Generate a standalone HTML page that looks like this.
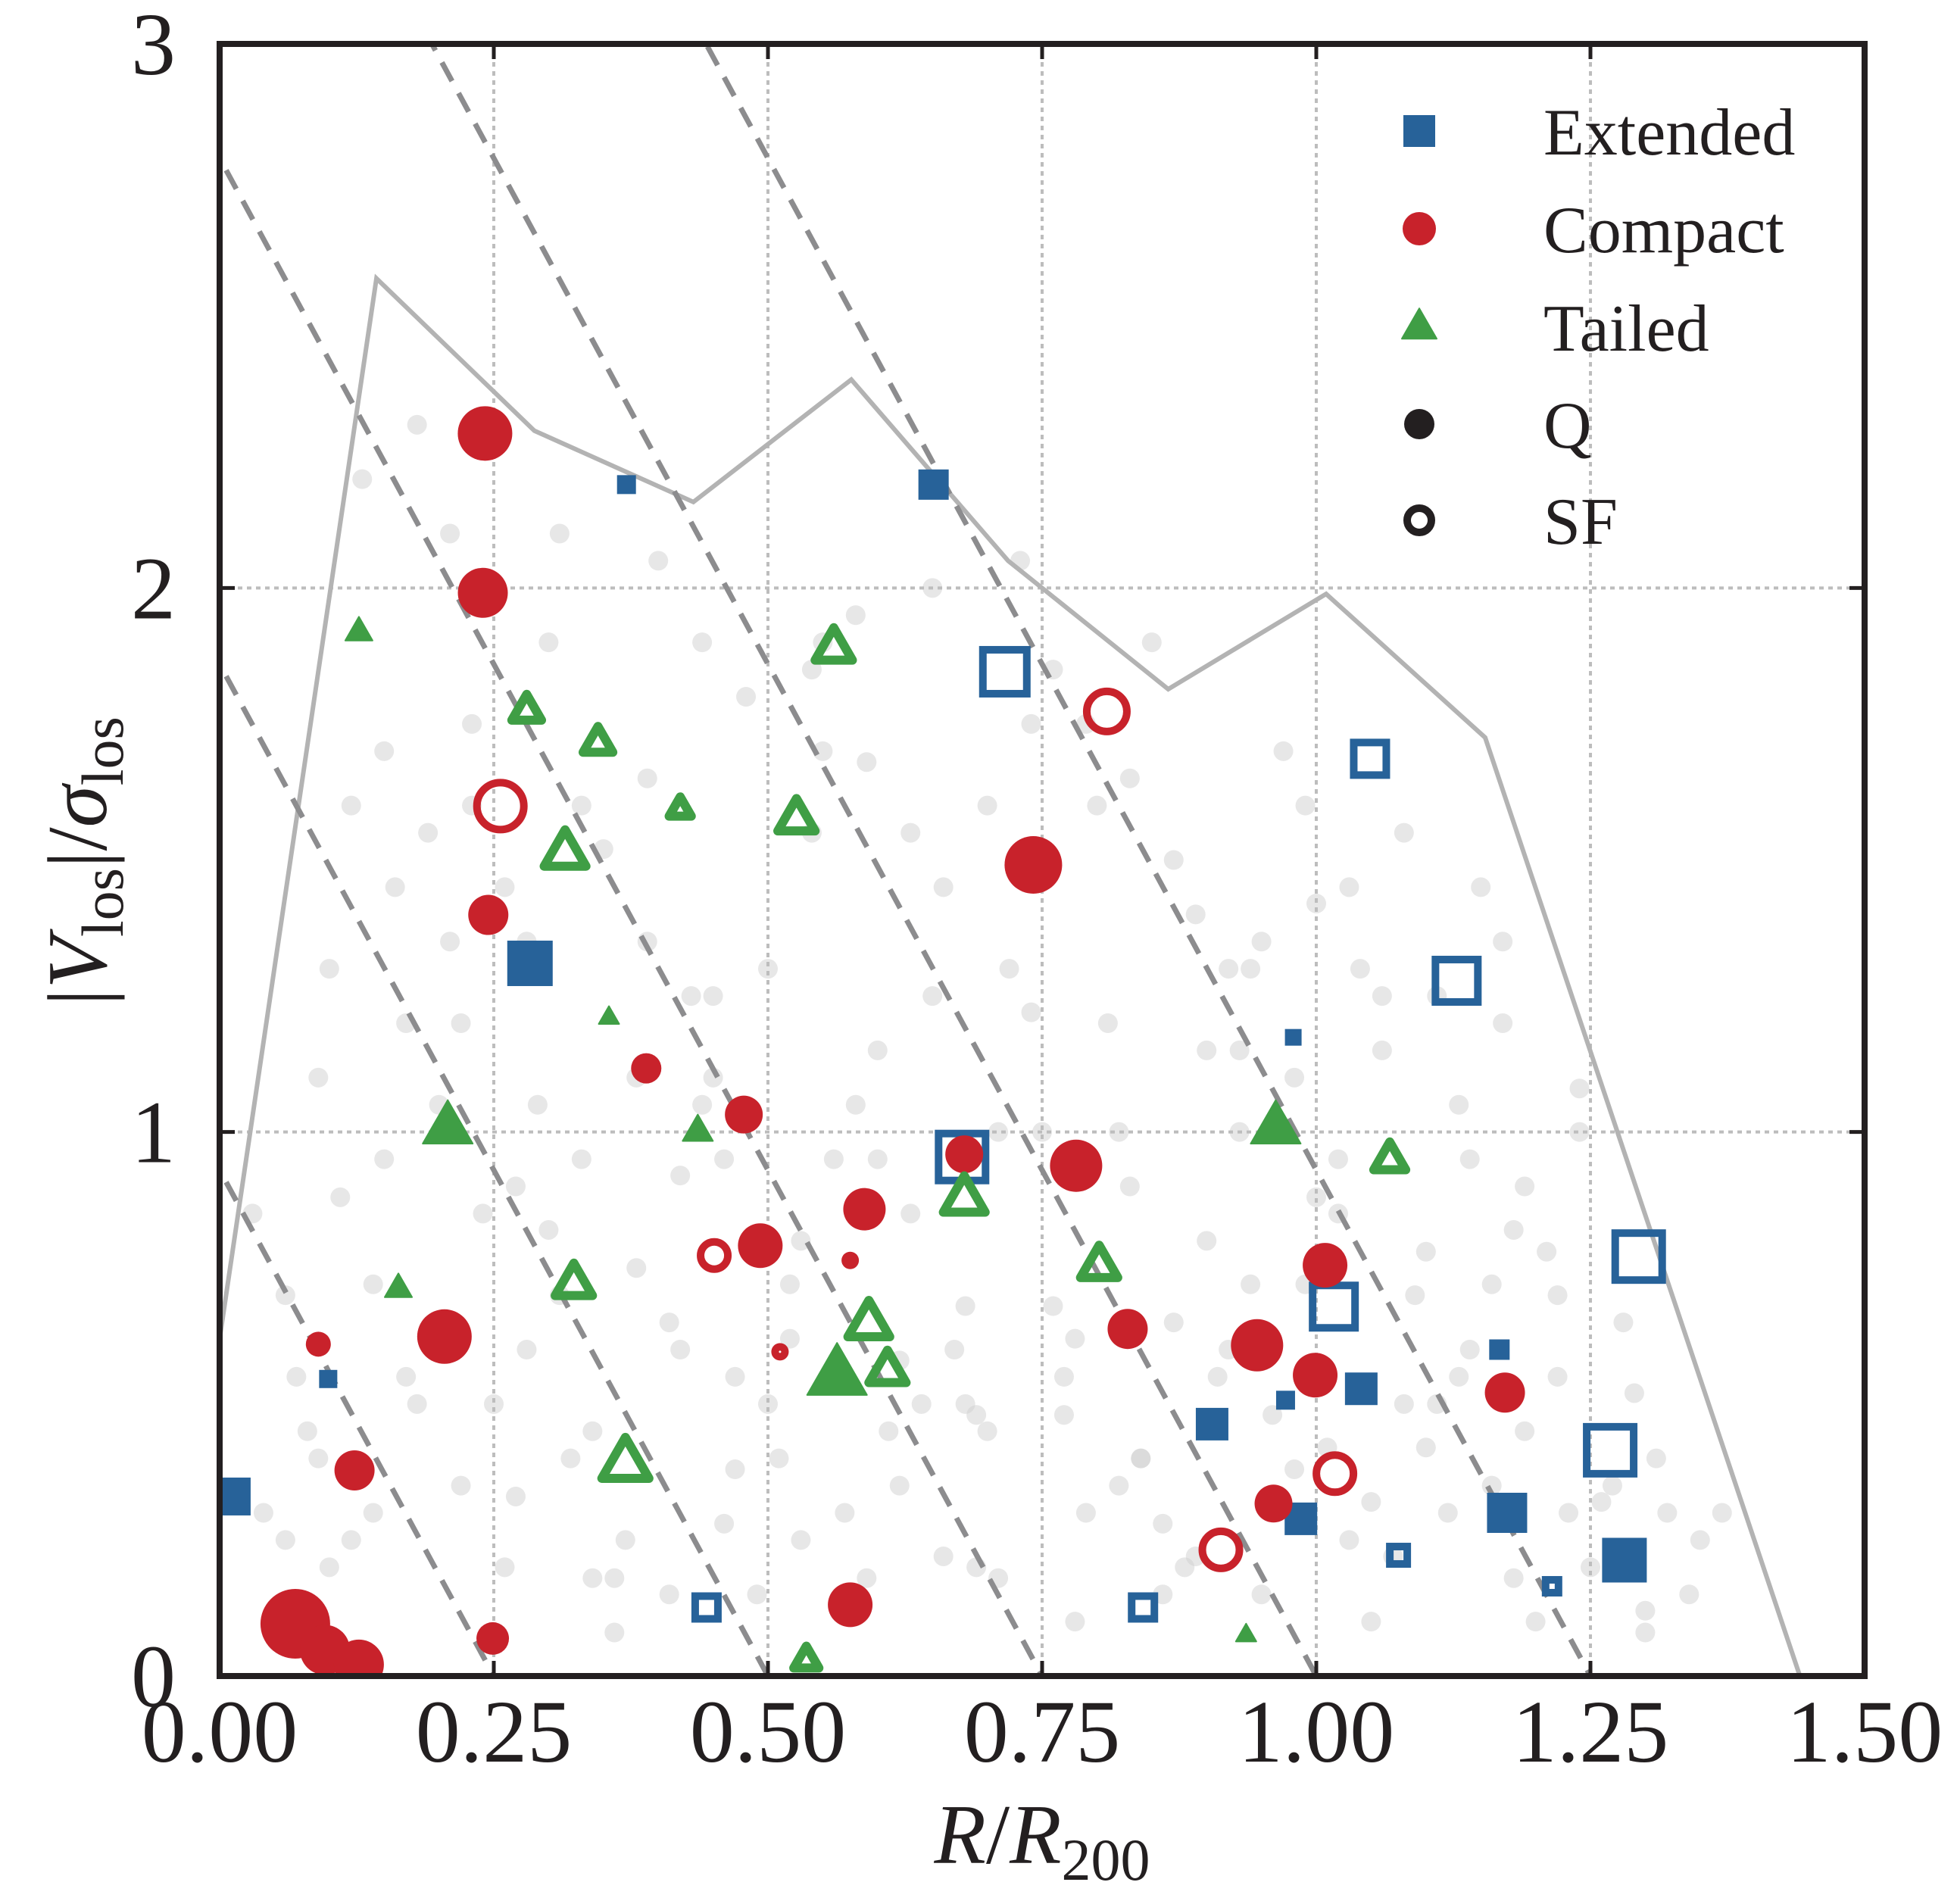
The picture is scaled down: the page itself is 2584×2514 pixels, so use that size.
<!DOCTYPE html>
<html><head><meta charset="utf-8"><style>
html,body{margin:0;padding:0;background:#fff;}
svg{display:block;}
text{font-family:"Liberation Serif",serif;fill:#231f20;}
</style></head><body>
<svg id="chart" width="2584" height="2514" viewBox="0 0 2584 2514" xmlns="http://www.w3.org/2000/svg">
<rect x="0" y="0" width="2584" height="2514" fill="#fff"/>
<g id="bg"></g><g id="grid"></g><g id="lines"></g><g id="marks"></g><g id="axes"></g><g id="legend"></g>
</svg>
<script>
const xTicks=[0,0.25,0.5,0.75,1.0,1.25,1.5];
const xTickLabels=["0.00","0.25","0.50","0.75","1.00","1.25","1.50"];
const yTicks=[0,1,2,3];
const yTickLabels=["0","1","2","3"];
// [x, y, size]
const extQ=[[0.011,0.33,50],[0.371,2.19,25],[0.651,2.19,40],[0.283,1.31,60],[0.099,0.546,24],[0.979,1.174,22],[1.167,0.60,27],[0.972,0.507,25],[1.041,0.528,43],[0.905,0.463,43],[0.986,0.289,43],[1.174,0.30,53],[1.281,0.213,59]];
const extSF=[[0.716,1.846,68],[1.049,1.686,53],[1.128,1.278,66],[0.677,0.954,72],[1.294,0.771,72],[1.016,0.679,66],[1.268,0.415,72],[0.444,0.126,40],[0.842,0.126,40],[1.075,0.222,33],[1.215,0.165,27]];
const cmpQ=[[0.242,2.284,72],[0.240,1.991,66],[0.245,1.399,53],[0.389,1.117,40],[0.478,1.032,50],[0.742,1.491,76],[0.679,0.959,50],[0.781,0.938,69],[0.588,0.858,56],[0.493,0.791,59],[0.575,0.764,23],[0.205,0.624,72],[0.090,0.610,33],[0.123,0.378,53],[0.828,0.638,53],[0.946,0.608,69],[1.008,0.755,59],[0.999,0.553,59],[1.172,0.521,53],[0.961,0.317,50],[0.575,0.131,59],[0.249,0.069,43],[0.069,0.096,92],[0.096,0.048,66],[0.127,0.021,66]];
const cmpSF=[[0.256,1.599,72],[0.809,1.773,63],[0.451,0.773,46],[1.017,0.372,59],[0.913,0.232,59],[0.511,0.596,23]];
const tailQ=[[0.127,1.92,36],[0.355,1.211,27],[0.208,1.009,66],[0.436,1.002,40],[0.163,0.713,36],[0.563,0.553,79],[0.963,1.009,66],[0.936,0.076,27]];
const tailSF=[[0.280,1.775,56],[0.345,1.716,56],[0.560,1.89,66],[0.420,1.594,46],[0.526,1.576,66],[0.315,1.514,72],[0.323,0.722,66],[0.370,0.392,79],[0.535,0.030,50],[0.592,0.649,72],[0.609,0.562,66],[0.679,0.878,72],[0.802,0.755,66],[1.067,0.95,59]];
const envX=[0,0.143,0.287,0.432,0.576,0.719,0.865,1.009,1.154,1.441];
const envY=[0.62,2.569,2.289,2.158,2.383,2.05,1.814,1.989,1.725,0];
const causticX0=[0.25,0.5,0.75,1.0,1.25];
const causticSlope=3.72;
const bgX=[0.05,0.08,0.11,0.14,0.17,0.2,0.23,0.26,0.29,0.32,0.35,0.38,0.41,0.44,0.47,0.5,0.53,0.56,0.59,0.62,0.65,0.68,0.71,0.74,0.77,0.8,0.83,0.86,0.89,0.92,0.95,0.98,1.01,1.04,1.07,1.1,1.13,1.16,1.19,1.22,1.25,1.28,1.31,1.34,
0.06,0.09,0.12,0.15,0.18,0.21,0.24,0.27,0.3,0.33,0.36,0.39,0.42,0.45,0.48,0.51,0.54,0.57,0.6,0.63,0.66,0.69,0.72,0.75,0.78,0.81,0.84,0.87,0.9,0.93,0.96,0.99,1.02,1.05,1.08,1.11,1.14,1.17,1.2,1.23,
0.04,0.1,0.16,0.22,0.28,0.34,0.4,0.46,0.52,0.58,0.64,0.7,0.76,0.82,0.88,0.94,1.0,1.06,1.12,1.18,1.24,1.3,
0.13,0.19,0.25,0.31,0.37,0.43,0.49,0.55,0.61,0.67,0.73,0.79,0.85,0.91,0.97,1.03,1.09,1.15,
0.07,0.15,0.23,0.31,0.39,0.47,0.55,0.63,0.71,0.79,0.87,0.95,1.03,1.11,1.19,1.27,1.35,
0.03,0.06,0.1,0.14,0.18,0.22,0.26,0.3,0.34,0.38,0.42,0.46,0.5,0.54,0.58,0.62,0.66,0.7,0.74,0.78,0.82,0.86,0.9,0.94,0.98,1.02,1.06,1.1,1.14,1.18,1.22,1.26,1.3,
0.09,0.17,0.21,0.27,0.33,0.41,0.45,0.53,0.59,0.65,0.69,0.77,0.83,0.89,0.93,0.99,1.05,1.13,1.17,1.21,1.29,1.37,
0.12,0.2,0.28,0.36,0.44,0.52,0.6,0.68,0.76,0.84,0.92,1.0,1.08,1.16,1.24,1.32];
const bgY=[0.12,0.45,0.88,0.3,1.2,0.62,1.75,0.2,1.05,0.4,1.52,0.75,0.15,1.9,0.55,1.3,0.25,0.95,1.68,0.35,2.0,0.68,0.18,1.22,0.48,1.6,0.9,0.28,1.4,0.6,0.15,1.1,0.42,1.3,0.22,0.78,1.05,0.35,0.9,0.55,0.2,0.65,0.4,0.15,
0.7,1.1,0.25,1.7,0.5,2.1,0.85,0.33,1.9,0.95,0.08,1.35,0.6,1.1,1.8,0.4,1.55,0.3,1.15,0.85,1.45,0.2,1.3,1.0,0.1,1.2,0.4,1.5,0.8,1.0,0.48,1.6,0.95,0.1,1.55,0.5,0.6,1.2,0.1,0.3,
0.3,0.2,1.45,1.2,0.6,0.45,2.05,0.95,0.72,1.95,0.5,1.6,0.68,0.35,0.2,1.3,1.42,1.15,0.3,0.82,1.0,0.12,
2.2,1.55,0.5,2.1,0.25,1.25,0.15,1.7,0.45,0.6,2.05,0.3,1.9,0.55,1.7,0.25,0.7,1.45,
0.55,0.95,1.6,0.7,1.65,0.38,1.9,1.55,1.0,1.75,0.65,1.35,1.45,1.25,0.45,0.35,0.25,
0.85,0.25,1.3,0.72,2.3,0.35,1.45,0.82,0.18,1.1,0.92,0.28,0.5,1.85,1.05,0.58,0.22,0.45,1.75,0.62,1.0,0.15,1.15,0.72,0.38,0.85,1.25,0.42,0.95,0.18,0.7,0.32,0.08,
0.4,0.55,1.35,0.9,1.6,0.65,1.25,0.8,0.18,1.25,0.48,0.55,1.65,0.22,1.15,0.72,0.32,0.55,1.35,0.78,0.52,0.3,
1.6,1.05,1.35,0.18,1.05,0.62,0.95,0.5,1.85,0.4,1.3,0.88,0.5,0.72,1.08,0.3];

const L=290,R=2462,T=58,B=2213;
const X0=0,X1=1.5,Y0=0,Y1=3;
const sx=v=>L+(v-X0)/(X1-X0)*(R-L);
const sy=v=>B-(v-Y0)/(Y1-Y0)*(B-T);
const NS="http://www.w3.org/2000/svg";
function mk(tag,attrs,parent){const e=document.createElementNS(NS,tag);for(const k in attrs)e.setAttribute(k,attrs[k]);parent.appendChild(e);return e;}
const BLUE="#276299",RED="#c8222b",GREEN="#3f9e45";

const defs=mk('defs',{},document.getElementById('chart'));
const cp=mk('clipPath',{id:'plotclip'},defs);
mk('rect',{x:L,y:T,width:R-L,height:B-T},cp);
['bg','grid','lines','marks'].forEach(id=>document.getElementById(id).setAttribute('clip-path','url(#plotclip)'));

const bg=document.getElementById('bg');
for(let i=0;i<bgX.length;i++){
  const c=mk('circle',{cx:sx(bgX[i]),cy:sy(bgY[i]),r:13,fill:'#d0d0d0','fill-opacity':0.5},bg);
  
  
}
const grid=document.getElementById('grid');
xTicks.slice(1,-1).forEach(v=>{const l=mk('line',{x1:sx(v),x2:sx(v),y1:T,y2:B,stroke:'#bdbdbd','stroke-width':4,'stroke-dasharray':'6 6'},grid);
  });
yTicks.slice(1,-1).forEach(v=>{const l=mk('line',{x1:L,x2:R,y1:sy(v),y2:sy(v),stroke:'#bdbdbd','stroke-width':4,'stroke-dasharray':'6 6'},grid);
  });

const lines=document.getElementById('lines');
const env=mk('polyline',{points:envX.map((x,i)=>sx(x)+','+sy(envY[i])).join(' '),fill:'none',stroke:'#b3b3b3','stroke-width':6},lines);

causticX0.forEach(x0=>{
  const xa=-0.1,xb=x0+0.05;
  const l=mk('line',{x1:sx(xa),y1:sy(causticSlope*(x0-xa)),x2:sx(xb),y2:sy(causticSlope*(x0-xb)),stroke:'#8c8c8e','stroke-width':7,'stroke-dasharray':'28 18'},lines);
  
});

const marks=document.getElementById('marks');
function square(x,y,s,col,open,parent){const sw=10;
  const a=open?{x:x-s/2+sw/2,y:y-s/2+sw/2,width:s-sw,height:s-sw,fill:'none',stroke:col,'stroke-width':sw}:{x:x-s/2,y:y-s/2,width:s,height:s,fill:col};
  return mk('rect',a,parent);}
function circle(x,y,s,col,open,parent){const sw=10;
  const a=open?{cx:x,cy:y,r:s/2-sw/2,fill:'none',stroke:col,'stroke-width':sw}:{cx:x,cy:y,r:s/2,fill:col};
  return mk('circle',a,parent);}
function tri(x,y,s,col,open,parent){const sw=12;const h=s*0.87;
  const k=open?1-sw*1.4/s:1;const hs=s*k/2,hh=h*k;
  const pts=`${x},${y-hh*0.62} ${x-hs},${y+hh*0.38} ${x+hs},${y+hh*0.38}`;
  return mk('polygon',open?{points:pts,fill:'none',stroke:col,'stroke-width':sw,'stroke-linejoin':'round'}:{points:pts,fill:col,stroke:col,'stroke-width':2,'stroke-linejoin':'round'},parent);}
const S=1.0;
extQ.forEach(d=>{const e=square(sx(d[0]),sy(d[1]),d[2]*S,BLUE,false,marks);});
extSF.forEach(d=>{const e=square(sx(d[0]),sy(d[1]),d[2]*S,BLUE,true,marks);});
cmpQ.forEach(d=>{const e=circle(sx(d[0]),sy(d[1]),d[2]*S,RED,false,marks);});
cmpSF.forEach(d=>{const e=circle(sx(d[0]),sy(d[1]),d[2]*S,RED,true,marks);});
tailQ.forEach(d=>{const e=tri(sx(d[0]),sy(d[1]),d[2]*S,GREEN,false,marks);});
tailSF.forEach(d=>{const e=tri(sx(d[0]),sy(d[1]),d[2]*S,GREEN,true,marks);});

const axes=document.getElementById('axes');
const frame=mk('rect',{x:L,y:T,width:R-L,height:B-T,fill:'none',stroke:'#231f20','stroke-width':8},axes);

xTicks.forEach((v,i)=>{
  if(i>0&&i<xTicks.length-1){mk('line',{x1:sx(v),x2:sx(v),y1:B,y2:B-20,stroke:'#231f20','stroke-width':5},axes);
  mk('line',{x1:sx(v),x2:sx(v),y1:T,y2:T+20,stroke:'#231f20','stroke-width':5},axes);}
  const t=mk('text',{x:sx(v),y:2326,'font-size':118,'text-anchor':'middle'},axes);t.textContent=xTickLabels[i];
  
});
yTicks.forEach((v,i)=>{
  if(i>0&&i<yTicks.length-1){mk('line',{x1:L,x2:L+20,y1:sy(v),y2:sy(v),stroke:'#231f20','stroke-width':5},axes);
  mk('line',{x1:R,x2:R-20,y1:sy(v),y2:sy(v),stroke:'#231f20','stroke-width':5},axes);}
  const t=mk('text',{x:232,y:sy(v)+40,'font-size':118,'text-anchor':'end'},axes);t.textContent=yTickLabels[i];
  
});
const xl=mk('text',{x:1376,y:2460,'font-size':112,'text-anchor':'middle'},axes);

xl.innerHTML='<tspan font-style="italic">R</tspan>/<tspan font-style="italic">R</tspan><tspan font-size="78" dy="22">200</tspan>';
const yl=mk('text',{x:0,y:0,'font-size':112,'text-anchor':'middle',transform:'translate(140,1137) rotate(-90)'},axes);

yl.innerHTML='|<tspan font-style="italic">V</tspan><tspan font-size="78" dy="22">los</tspan><tspan dy="-22">|/</tspan><tspan font-style="italic">σ</tspan><tspan font-size="78" dy="22">los</tspan>';

const legend=document.getElementById('legend');
const legNames=["Extended","Compact","Tailed","Q","SF"];
const legY=[173,302,432,560,687];
legNames.forEach((n,i)=>{
  const g=mk('g',{},legend);
  const mx=1874,my=legY[i];
  if(i===0)square(mx,my,42,BLUE,false,g);
  else if(i===1)circle(mx,my,44,RED,false,g);
  else if(i===2)tri(mx,my,46,GREEN,false,g);
  else if(i===3)circle(mx,my,40,'#231f20',false,g);
  else circle(mx,my,42,'#231f20',true,g);
  const t=mk('text',{x:2038,y:my+31,'font-size':88},g);t.textContent=n;
});
</script>
</body></html>
